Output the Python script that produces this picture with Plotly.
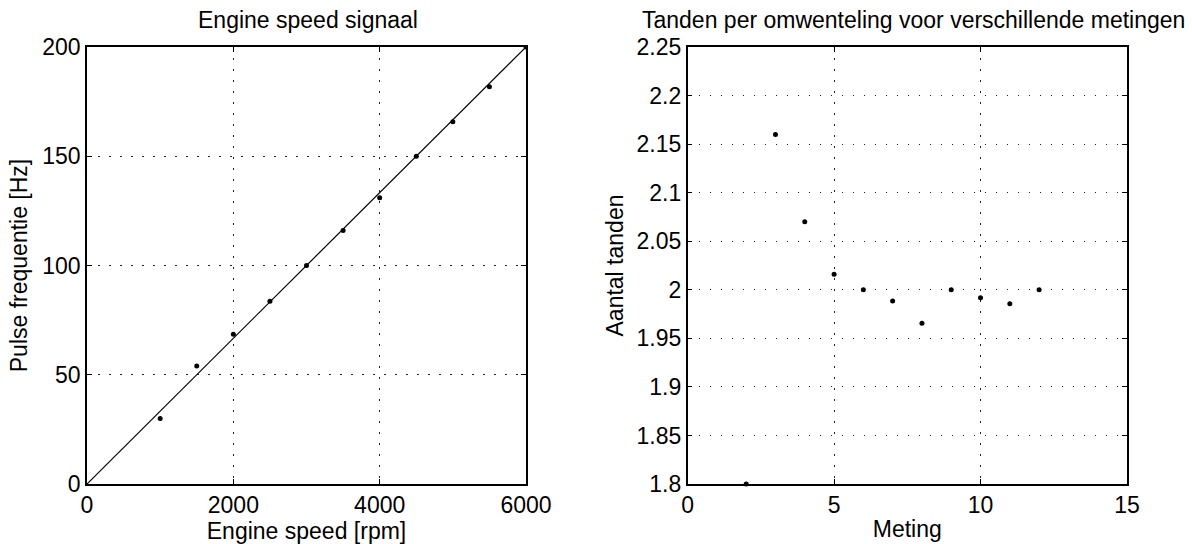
import plotly.graph_objects as go

# Left: Engine speed signaal
rpm = [1000, 1500, 2000, 2500, 3000, 3500, 4000, 4500, 5000, 5500, 6000]
freq = [30, 54, 68.5, 83.6, 100, 116, 131, 150, 165.8, 181.8, 200]
fit_rpm = [0, 6000]
fit_freq = [0, 200]

# Right: Tanden per omwenteling
meting = [2, 3, 4, 5, 6, 7, 8, 9, 10, 11, 12]
tanden = [1.8, 2.16, 2.07, 2.016, 2.0, 1.9885, 1.9655, 2.0, 1.9917, 1.9856, 2.0]

left_xticks = [0, 2000, 4000, 6000]
left_yticks = [0, 50, 100, 150, 200]
right_xticks = [0, 5, 10, 15]
right_yticks = [1.8, 1.85, 1.9, 1.95, 2.0, 2.05, 2.1, 2.15, 2.2, 2.25]
right_ytext = ["1.8", "1.85", "1.9", "1.95", "2", "2.05", "2.1", "2.15", "2.2", "2.25"]

W, H = 1192, 544
FONT = "Liberation Sans, Arial, Helvetica, sans-serif"
FS = 23

def px(v):
    return v / W

def py(v):
    return 1 - v / H

fig = go.Figure()

fig.add_trace(go.Scatter(x=fit_rpm, y=fit_freq, mode="lines",
                         line=dict(color="black", width=1.2),
                         xaxis="x", yaxis="y", showlegend=False, hoverinfo="skip"))
fig.add_trace(go.Scatter(x=rpm, y=freq, mode="markers",
                         marker=dict(color="black", size=5),
                         xaxis="x", yaxis="y", showlegend=False))
fig.add_trace(go.Scatter(x=meting, y=tanden, mode="markers",
                         marker=dict(color="black", size=5),
                         xaxis="x2", yaxis="y2", showlegend=False, cliponaxis=False))

axis_common = dict(
    showline=True, linecolor="black", linewidth=1.5, mirror="ticks",
    ticks="inside", ticklen=5, tickcolor="black", tickwidth=1,
    showgrid=True, gridcolor="#222222", gridwidth=1.2, griddash="1.5px,9.5px",
    zeroline=False, tickfont=dict(family=FONT, size=FS, color="black"),
    automargin=False,
)

ydom = [py(484), py(47)]

fig.update_layout(
    width=W, height=H,
    margin=dict(l=0, r=0, t=0, b=0),
    paper_bgcolor="white", plot_bgcolor="white",
    font=dict(family=FONT, size=FS, color="black"),
    xaxis=dict(domain=[px(87), px(526)], range=[0, 6000], tickvals=left_xticks,
               anchor="y",
               title=dict(text="Engine speed [rpm]", standoff=4,
                          font=dict(family=FONT, size=FS)), **axis_common),
    yaxis=dict(domain=ydom, range=[0, 200], tickvals=left_yticks, anchor="x",
               title=dict(text="Pulse frequentie [Hz]", standoff=8,
                          font=dict(family=FONT, size=FS)), **axis_common),
    xaxis2=dict(domain=[px(687.6), px(1127)], range=[0, 15], tickvals=right_xticks,
                anchor="y2",
                title=dict(text="Meting", standoff=4, font=dict(family=FONT, size=FS)),
                **axis_common),
    yaxis2=dict(domain=ydom, range=[1.8, 2.25], tickvals=right_yticks, ticktext=right_ytext,
                anchor="x2",
                title=dict(text="Aantal tanden", standoff=6, font=dict(family=FONT, size=FS)),
                **axis_common),
    annotations=[
        dict(text="Engine speed signaal", x=px(308), y=py(20),
             xref="paper", yref="paper", showarrow=False, xanchor="center", yanchor="middle",
             font=dict(family=FONT, size=FS, color="black")),
        dict(text="Tanden per omwenteling voor verschillende metingen",
             x=px(913), y=py(20),
             xref="paper", yref="paper", showarrow=False, xanchor="center", yanchor="middle",
             font=dict(family=FONT, size=FS, color="black")),
    ],
)

fig.write_html("out.html")
